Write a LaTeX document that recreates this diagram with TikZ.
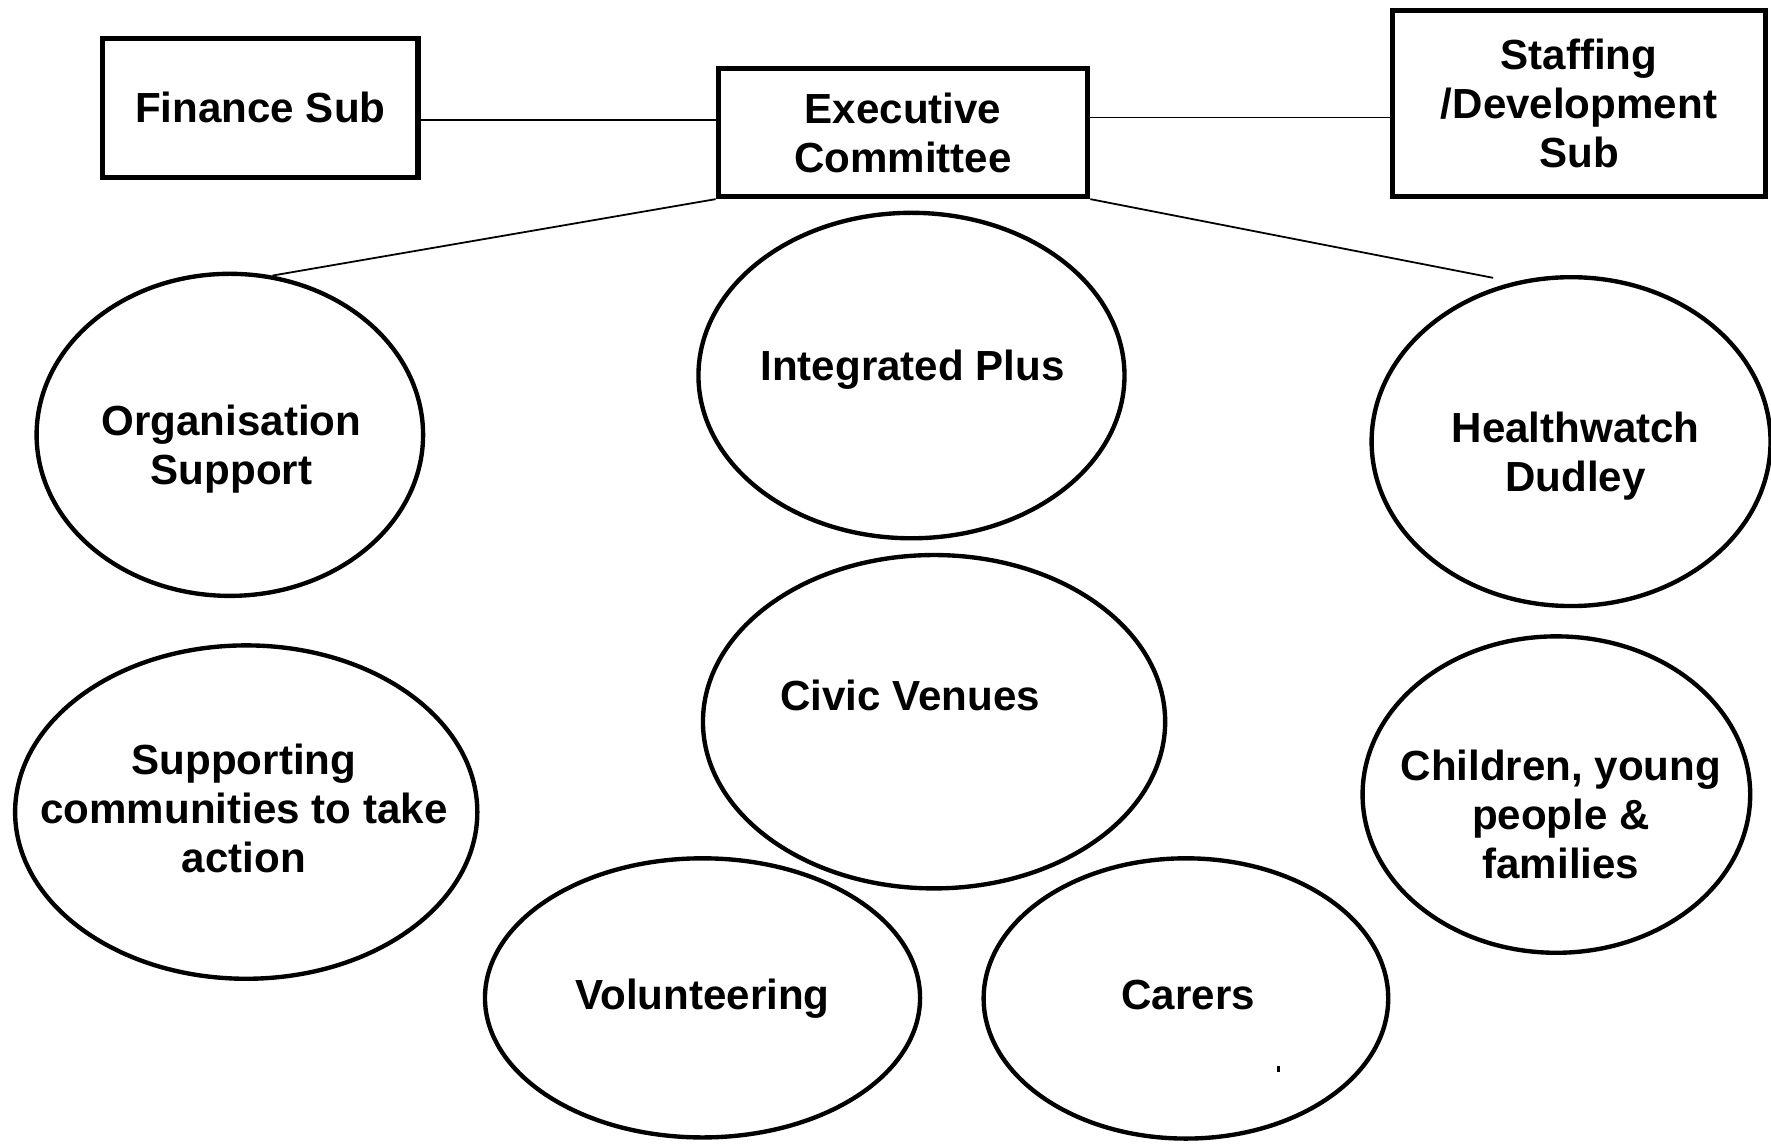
\documentclass[tikz,border=0pt]{standalone}
\usepackage{fontspec}
\setmainfont{Liberation Sans}
\usetikzlibrary{shapes.geometric}

\begin{document}
\begin{tikzpicture}[x=0.01cm,y=-0.01cm]
\tikzstyle{every node}+=[inner sep=0pt,font=\fontsize{10.6}{12.3}\selectfont\bfseries,align=center]
\tikzstyle{subbox}=[draw,line width=1.3pt]
\tikzstyle{bubble}=[draw,ellipse,line width=1.1pt]
\tikzstyle{link}=[line width=0.45pt]
\useasboundingbox (0,0) rectangle (1568,1012);
% committees
\node [subbox,minimum width=2.79cm,minimum height=1.23cm] (fin) at (230.5,95.5) {Finance Sub};
\node [subbox,minimum width=3.27cm,minimum height=1.13cm] (exec) at (799.5,117.5) {Executive\\Committee};
\node [subbox,minimum width=3.30cm,minimum height=1.65cm] (staff) at (1398,91.5) {Staffing\\/Development\\Sub};
% services
\node [bubble,minimum width=3.42cm,minimum height=2.85cm] (org) at (203.5,385) {};
\node (org-t) at (205,398) {Organisation\\Support};
\node [bubble,minimum width=3.77cm,minimum height=2.88cm] (integ) at (807,332.5) {};
\node (integ-t) at (808,327) {Integrated Plus};
\node [bubble,minimum width=3.53cm,minimum height=2.91cm] (health) at (1391,391) {};
\node (health-t) at (1395,404) {Healthwatch\\Dudley};
\node [bubble,minimum width=4.09cm,minimum height=2.95cm] (supp) at (218,719) {};
\node (supp-t) at (216,716) {Supporting\\communities to take\\action};
\node [bubble,minimum width=4.09cm,minimum height=2.95cm] (civic) at (827,639) {};
\node (civic-t) at (806,616) {Civic Venues};
\node [bubble,minimum width=3.43cm,minimum height=2.80cm] (child) at (1378,703.5) {};
\node (child-t) at (1382,721) {Children, young\\people \&\\families};
\node [bubble,minimum width=3.85cm,minimum height=2.47cm] (volun) at (622,883.5) {};
\node (volun-t) at (622,884) {Volunteering};
\node [bubble,minimum width=3.58cm,minimum height=2.48cm] (carers) at (1050,884) {};
\node (carers-t) at (1052,881) {Carers};
% connectors
\draw [link] (fin.east |- 0,106) -- (exec.west |- 0,106);
\draw [link] (exec.east |- 0,104) -- (staff.west |- 0,104);
\draw [link] (exec.south west) -- (org.75);
\coordinate (health-end) at (1322,246);
\draw [link] (exec.south east) -- (health-end);
\draw [line width=0.6pt] (1132,944) -- (1132,949);
\end{tikzpicture}
\end{document}
